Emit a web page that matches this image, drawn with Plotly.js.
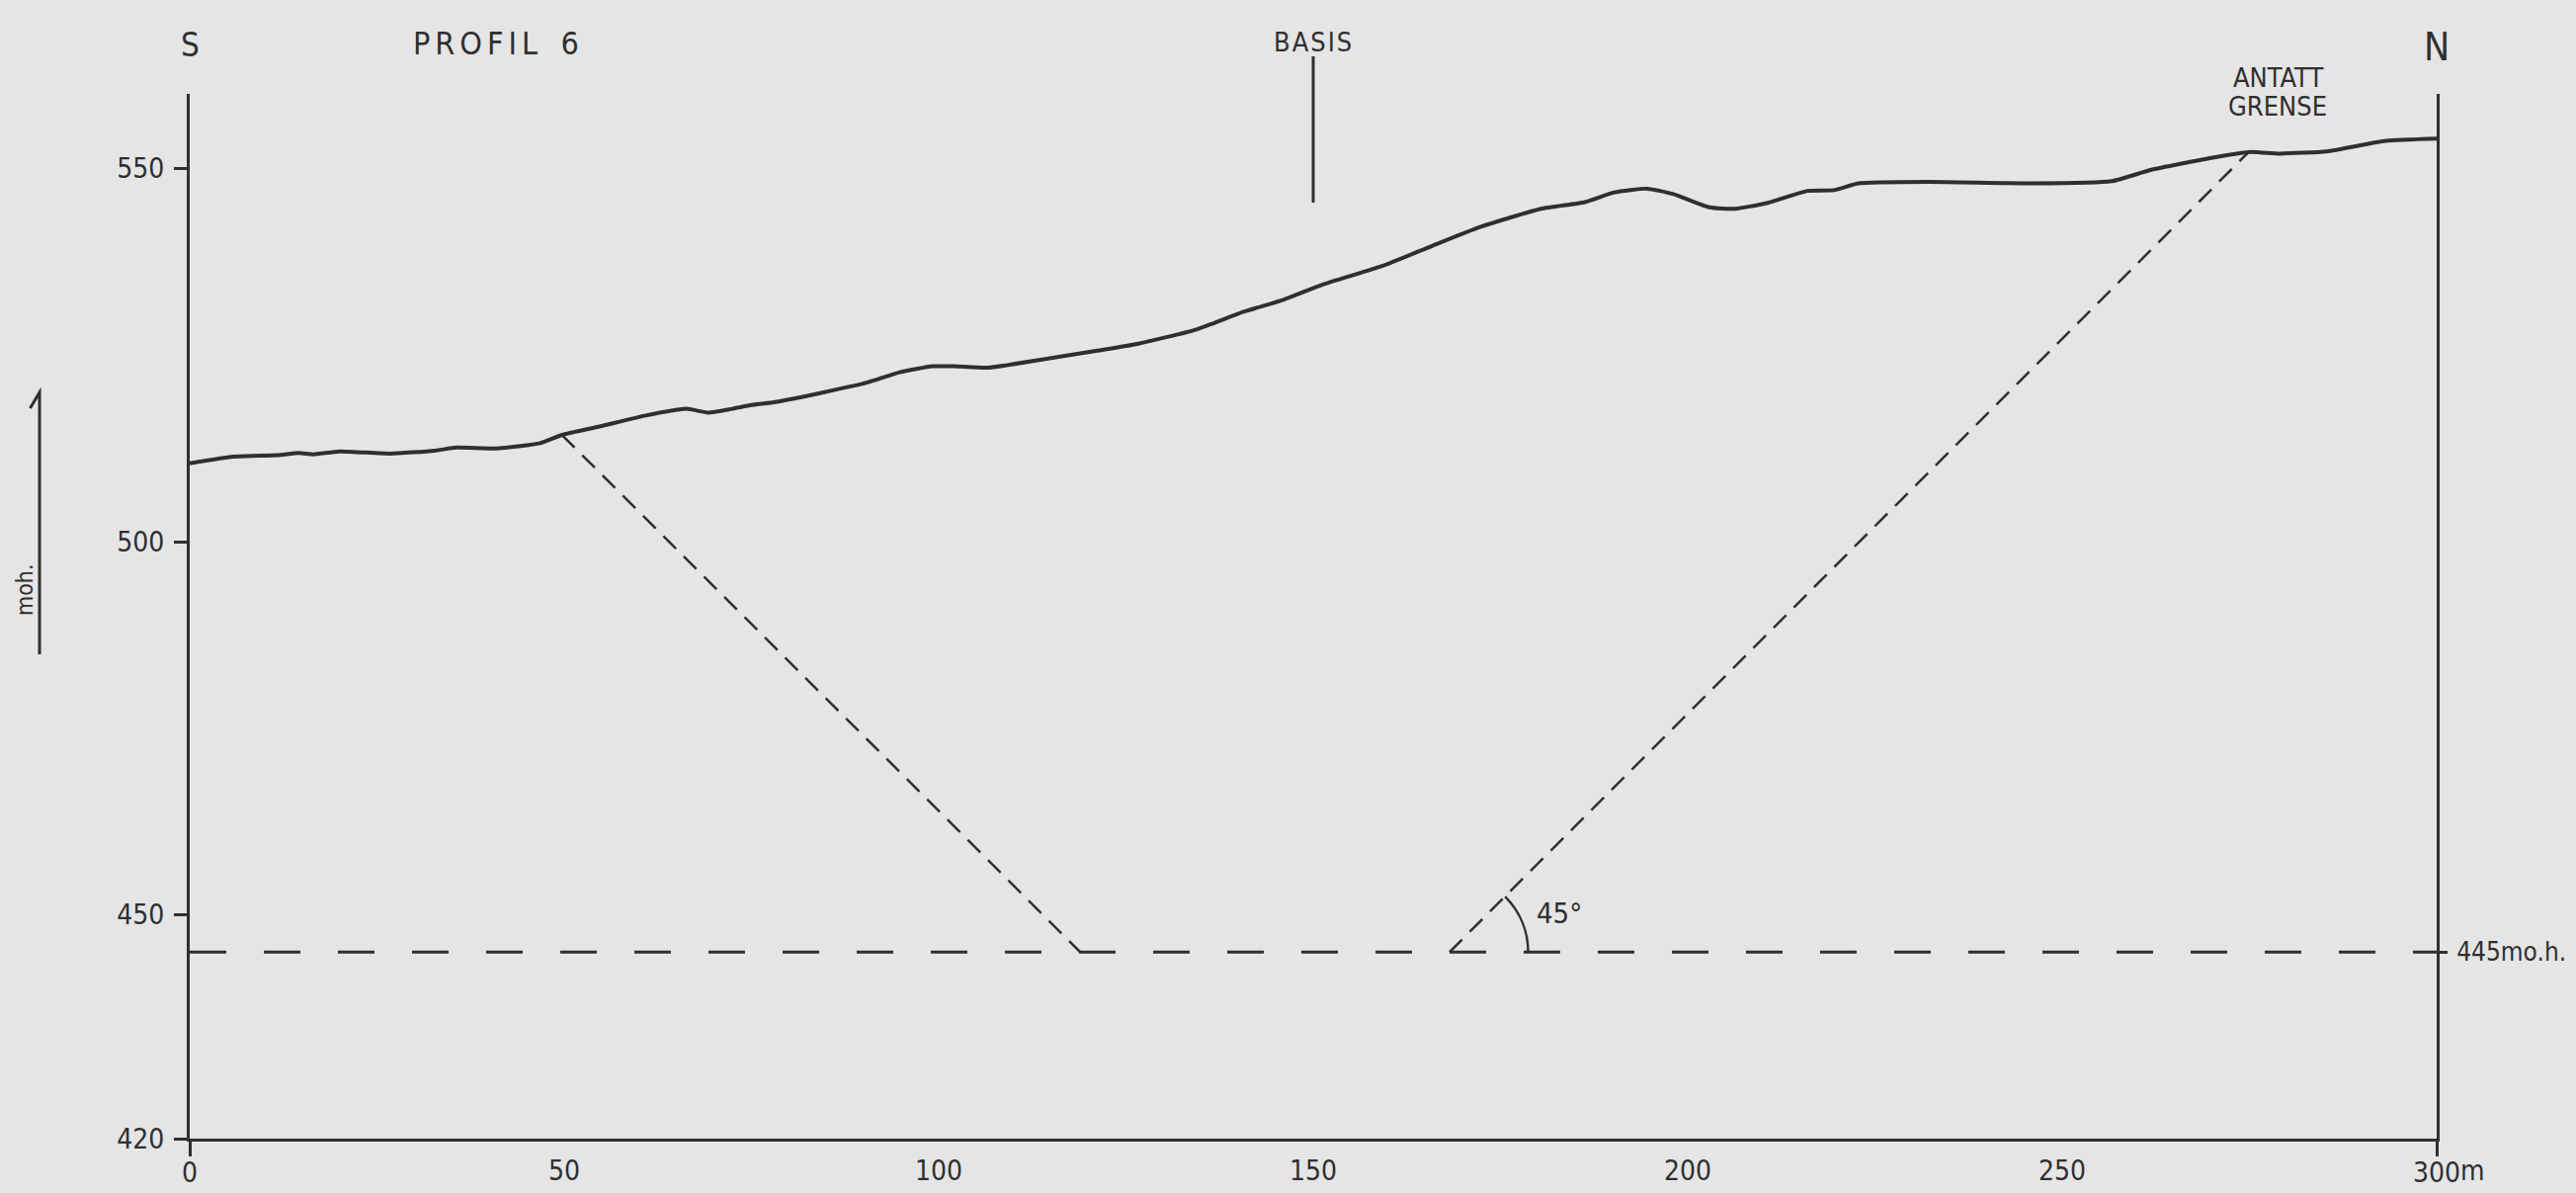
<!DOCTYPE html>
<html>
<head>
<meta charset="utf-8">
<script src="https://cdn.plot.ly/plotly-3.0.1.min.js"></script>
<style>
  html, body { margin: 0; padding: 0; background: #e5e5e5; }
  #chart { width: 2607px; height: 1207px; }
</style>
</head>
<body>
<div id="chart"></div>
<script>
// ---------- data ----------
const profileDist = [0, 5.8, 11.7, 14.6, 16.5, 20, 26.8, 32.7, 35.6, 40.9, 46.8, 49.7, 54.6, 60.9, 66.3, 69.2,
  72.4, 75, 78.2, 84.6, 90.4, 94.8, 99.2, 102.1, 106.5, 113.8, 121.2, 126.5, 134.3, 140.7, 146.0,
  151.1, 159.4, 165.8, 172.1, 180.4, 186.3, 190.2, 194.6, 198.0, 202.9, 206.3, 210.7, 216.0, 219.5, 222.8,
  232.1, 246.2, 256.6, 261.8, 269.7, 274.9, 279.1, 285.3, 293.2, 300];
const profileElev = [510.5, 511.4, 511.6, 511.9, 511.7, 512.1, 511.8, 512.2, 512.6, 512.5, 513.2, 514.3, 515.4, 516.9, 517.8, 517.3,
  517.8, 518.3, 518.7, 520.0, 521.3, 522.7, 523.5, 523.5, 523.3, 524.4, 525.6, 526.5, 528.4, 530.8, 532.4,
  534.4, 537.0, 539.6, 542.1, 544.6, 545.5, 546.8, 547.3, 546.6, 544.8, 544.6, 545.4, 547.0, 547.1, 548.0,
  548.2, 548.0, 548.3, 549.8, 551.4, 552.2, 552.0, 552.3, 553.7, 554.0];

const referenceLevel = 445;            // 445 m o.h.
const levelDist = [0, 300];
const levelElev = [referenceLevel, referenceLevel];

const leftDipDist = [49.7, 118.9];
const leftDipElev = [514.3, 445];
const rightDipDist = [168.2, 274.9];
const rightDipElev = [445, 552.2];

const basisDist = 150;
const angleRadius = 10.5;

const xMajorTicks = [0, 300];
const xMajorText = ['0', '300'];
const xMinorTicks = [50, 100, 150, 200, 250];
const xMinorText = ['50', '100', '150', '200', '250'];
const yTicks = [420, 450, 500, 550];
const yTickText = ['420', '450', '500', '550'];
const rightTicks = [445];
const rightTickText = ['445mo.h.'];

// ---------- styling / geometry ----------
const ink = '#2f2f2f';
const bg = '#e5e5e5';
const numFont = 'Liberation Sans Narrow, DejaVu Sans Condensed, sans-serif';
const txtFont = 'DejaVu Sans Condensed, Liberation Sans Narrow, sans-serif';
const W = 2607, H = 1207;
const M = { l: 192, r: 141, t: 95, b: 55 };
const PW = W - M.l - M.r, PH = H - M.t - M.b;
const px = x => (x - M.l) / PW;          // pixel -> paper x
const py = y => (H - M.b - y) / PH;      // pixel -> paper y

// 45° arc (cubic bezier) around the foot of the right dip line
const cx = rightDipDist[0], cy = rightDipElev[0], r = angleRadius;
const a = Math.PI / 4, k = 4 / 3 * Math.tan(a / 4);
const p0 = [cx + r, cy];
const p1 = [cx + r, cy + k * r];
const p3 = [cx + r * Math.cos(a), cy + r * Math.sin(a)];
const p2 = [p3[0] + k * r * Math.sin(a), p3[1] - k * r * Math.cos(a)];
const arcPath = `M ${p0[0]},${p0[1]} C ${p1[0]},${p1[1]} ${p2[0]},${p2[1]} ${p3[0]},${p3[1]}`;

const traces = [
  { x: profileDist, y: profileElev, mode: 'lines', line: { color: ink, width: 4, shape: 'spline', smoothing: 0.5 }, hoverinfo: 'skip' },
  { x: levelDist, y: levelElev, mode: 'lines', line: { color: ink, width: 3, dash: '37px,38px' }, hoverinfo: 'skip' },
  { x: leftDipDist, y: leftDipElev, mode: 'lines', line: { color: ink, width: 2.5, dash: '18px,11px' }, hoverinfo: 'skip' },
  { x: rightDipDist, y: rightDipElev, mode: 'lines', line: { color: ink, width: 2.5, dash: '18px,11px' }, hoverinfo: 'skip' },
  // invisible carriers so that the overlaying axes are drawn
  { x: levelDist, y: levelElev, xaxis: 'x2', yaxis: 'y', mode: 'lines', opacity: 0, line: { width: 0 }, hoverinfo: 'skip' },
  { x: levelDist, y: levelElev, xaxis: 'x', yaxis: 'y2', mode: 'lines', opacity: 0, line: { width: 0 }, hoverinfo: 'skip' }
];

const layout = {
  width: W, height: H,
  margin: M,
  paper_bgcolor: bg, plot_bgcolor: bg,
  showlegend: false,
  font: { family: numFont, color: ink, size: 28 },
  xaxis: {
    range: [0, 300], autorange: false, fixedrange: true,
    tickmode: 'array', tickvals: xMajorTicks, ticktext: xMajorText,
    ticks: 'outside', ticklen: 15, tickwidth: 3, tickcolor: ink,
    ticklabelstandoff: -8,
    showline: true, linewidth: 3, linecolor: ink,
    showgrid: false, zeroline: false, automargin: false,
    tickfont: { family: numFont, size: 28, color: ink }
  },
  xaxis2: {
    overlaying: 'x', anchor: 'y', side: 'bottom',
    range: [0, 300], autorange: false, fixedrange: true,
    tickmode: 'array', tickvals: xMinorTicks, ticktext: xMinorText,
    ticks: 'outside', ticklen: 15, tickwidth: 1, tickcolor: 'rgba(0,0,0,0)',
    ticklabelstandoff: -8,
    showline: false, showgrid: false, zeroline: false, automargin: false,
    tickfont: { family: numFont, size: 28, color: ink }
  },
  yaxis: {
    range: [420, 560], autorange: false, fixedrange: true,
    tickmode: 'array', tickvals: yTicks, ticktext: yTickText,
    ticks: 'outside', ticklen: 13, tickwidth: 3, tickcolor: ink,
    ticklabelstandoff: 4,
    showline: true, linewidth: 3, linecolor: ink,
    showgrid: false, zeroline: false, automargin: false,
    tickfont: { family: numFont, size: 28, color: ink }
  },
  yaxis2: {
    overlaying: 'y', anchor: 'x', side: 'right',
    range: [420, 560], autorange: false, fixedrange: true,
    tickmode: 'array', tickvals: rightTicks, ticktext: rightTickText,
    ticks: 'outside', ticklen: 8, tickwidth: 2.5, tickcolor: ink,
    ticklabelstandoff: 4,
    showline: true, linewidth: 3, linecolor: ink,
    showgrid: false, zeroline: false, automargin: false,
    tickfont: { family: numFont, size: 26, color: ink }
  },
  shapes: [
    // BASIS marker
    { type: 'line', xref: 'x', yref: 'paper', x0: basisDist, x1: basisDist, y0: py(205), y1: py(57),
      line: { color: ink, width: 3 } },
    // 45° arc
    { type: 'path', xref: 'x', yref: 'y', path: arcPath, line: { color: ink, width: 2.5 } },
    // m o.h. arrow on the left
    { type: 'path', xref: 'paper', yref: 'paper',
      path: `M ${px(40)},${py(662)} L ${px(40)},${py(397)} L ${px(30.5)},${py(413)}`,
      line: { color: ink, width: 3 } }
  ],
  annotations: [
    { text: 'S', xref: 'x', yref: 'paper', x: 0, y: py(45), showarrow: false,
      xanchor: 'center', yanchor: 'middle', font: { family: txtFont, size: 33, color: ink } },
    { text: '<span style="letter-spacing:5px">PROFIL</span>  <span>6</span>', xref: 'paper', yref: 'paper', x: px(416), y: py(44), showarrow: false,
      xanchor: 'left', yanchor: 'middle', font: { family: txtFont, size: 32, color: ink } },
    { text: '<span style="letter-spacing:2px">BASIS</span>', xref: 'x', yref: 'paper', x: basisDist, y: py(42), showarrow: false,
      xanchor: 'center', yanchor: 'middle', font: { family: txtFont, size: 27, color: ink } },
    { text: 'N', xref: 'x', yref: 'paper', x: 300, y: py(48), showarrow: false,
      xanchor: 'center', yanchor: 'middle', font: { family: txtFont, size: 39, color: ink } },
    { text: 'ANTATT', xref: 'paper', yref: 'paper', x: px(2305), y: py(79), showarrow: false,
      xanchor: 'center', yanchor: 'middle', font: { family: txtFont, size: 27, color: ink } },
    { text: 'GRENSE', xref: 'paper', yref: 'paper', x: px(2305), y: py(107), showarrow: false,
      xanchor: 'center', yanchor: 'middle', font: { family: txtFont, size: 27, color: ink } },
    { text: '45°', xref: 'x', yref: 'y', x: 179.6, y: 450.2, showarrow: false,
      xanchor: 'left', yanchor: 'middle', font: { family: numFont, size: 29, color: ink } },
    { text: 'moh.', xref: 'paper', yref: 'paper', x: px(25), y: py(597), showarrow: false, textangle: -90,
      xanchor: 'center', yanchor: 'middle', font: { family: txtFont, size: 23, color: ink } },
    { text: 'm', xref: 'x', yref: 'paper', x: 300, xshift: 22, y: py(1184), showarrow: false,
      xanchor: 'left', yanchor: 'middle', font: { family: numFont, size: 28, color: ink } }
  ]
};

Plotly.newPlot('chart', traces, layout, { staticPlot: true, displayModeBar: false });
</script>
</body>
</html>
